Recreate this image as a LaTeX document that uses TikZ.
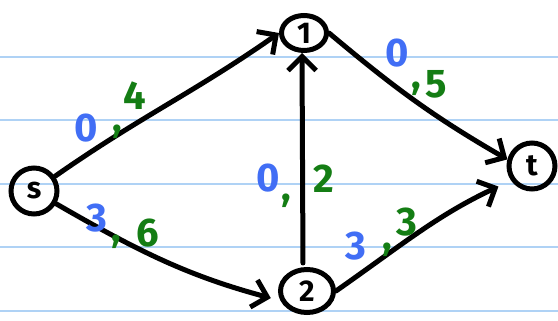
\documentclass[tikz,border=0pt]{standalone}
\usepackage{fontspec}
\setmainfont{Fira Sans}
\usetikzlibrary{arrows.meta,shapes.geometric}

\definecolor{flowblue}{RGB}{65,110,245}
\definecolor{capgreen}{RGB}{20,125,20}
\definecolor{paperline}{RGB}{175,210,245}

\begin{document}
\begin{tikzpicture}[x=1pt, y=1pt,
  every node/.style={font=\bfseries\fontsize{30}{30}\selectfont},
  vertex/.style={circle, draw, line width=5pt, inner sep=0pt, minimum size=46pt},
  oval/.style={ellipse, draw, line width=5pt, inner sep=0pt, minimum width=53pt, minimum height=43pt},
  edge/.style={line width=5pt, line cap=round, line join=round, -{Straight Barb[length=14pt,width=28pt]}},
  flowval/.style={text=flowblue, font=\bfseries\fontsize{40}{40}\selectfont, inner sep=0pt, anchor=base west},
  capval/.style={flowval, text=capgreen}]
  \fill[white] (0,0) rectangle (558,321);
  \useasboundingbox (0,0) rectangle (558,321);

  % ruled paper
  \foreach \y in {264,201,137,74,10}
    \draw[paperline, line width=2.5pt] (0,\y) -- (558,\y);

  % vertices
  \node[vertex] (s) at (34,130) {s};
  \node[oval, minimum width=45pt, minimum height=35pt] (n1) at (304,288) {1};
  \node[oval] (n2) at (307,30) {2};
  \node[vertex] (t) at (532,155) {t};

  % edges
  \draw[edge] (s) to[out=35,in=215] (n1.west);
  \draw[edge, shorten >=10pt] (s) to[out=-30,in=165] (n2.200);
  \draw[edge, shorten <=4pt] ([xshift=-4pt]n2.north) -- ([xshift=-2pt]n1.south);
  \draw[edge] (n1.east) to[out=-40,in=150] (t.165);
  \draw[edge, shorten >=14pt] (n2.east) to[out=35,in=205] (t.215);

  % labels: flow (blue), comma and capacity (green)
  \foreach \f/\fx/\fy/\kx/\ky/\c/\cx/\cy [count=\i] in {
      0/74/179/112/189/4/123/211,
      3/86/89/111/79/6/136/74,
      0/256/129/281/120/2/313/128,
      0/385/254/411/232/5/425/223,
      3/345/61/382/71/3/396/85} {
    \node[flowval] (flow\i) at (\fx,\fy) {\f};
    \node[capval] (comma\i) at (\kx,\ky) {,};
    \node[capval] (cap\i) at (\cx,\cy) {\c};
  }
\end{tikzpicture}
\end{document}
